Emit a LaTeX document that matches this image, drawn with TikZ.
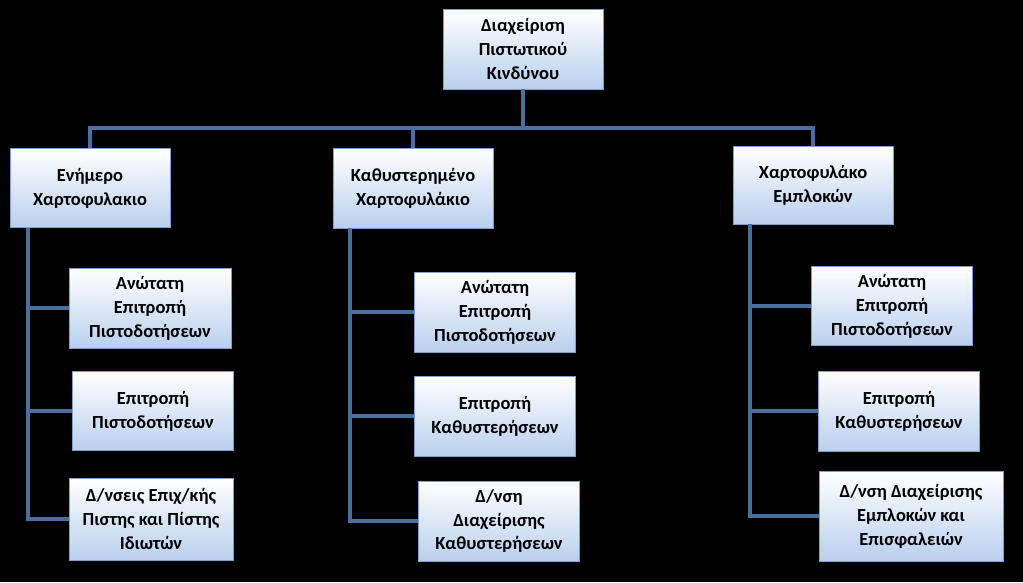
\documentclass[tikz,border=0pt]{standalone}
\usepackage{fontspec}
\setmainfont{Carlito}
\definecolor{boxline}{HTML}{7F9FCF}
\definecolor{boxfill}{HTML}{B9CFEE}
\definecolor{wire}{HTML}{4A6E9E}
\begin{document}
\begin{tikzpicture}[x=0.02cm,y=-0.02cm]
	\tikzstyle{unit}=[draw=boxline,thin,top color=white,bottom color=boxfill,align=center,
		inner sep=2pt,font=\bfseries\fontsize{10.5}{13.6}\selectfont]
	\tikzstyle{link}=[draw=wire,line width=2.2pt]

	\fill[black] (0,0) rectangle (1023,582);

	% top and first level
	\node[unit,minimum width=3.2cm,minimum height=1.6cm] (root) at (523,49) {Διαχείριση\\Πιστωτικού\\Κινδύνου};
	\node[unit,minimum width=3.2cm,minimum height=1.58cm] (cur) at (90,188) {Ενήμερο\\Χαρτοφυλακιο};
	\node[unit,minimum width=3.2cm,minimum height=1.6cm] (late) at (413,188) {Καθυστερημένο\\Χαρτοφυλάκιο};
	\node[unit,minimum width=3.2cm,minimum height=1.56cm] (lien) at (813,185) {Χαρτοφυλάκο\\Εμπλοκών};

	% second level
	\node[unit,minimum width=3.24cm,minimum height=1.6cm] (cur1) at (150,308) {Ανώτατη\\Επιτροπή\\Πιστοδοτήσεων};
	\node[unit,minimum width=3.22cm,minimum height=1.58cm] (cur2) at (153,411) {Επιτροπή\\Πιστοδοτήσεων};
	\node[unit,minimum width=3.28cm,minimum height=1.64cm] (cur3) at (151,519) {Δ/νσεις Επιχ/κής\\Πιστης και Πίστης\\Ιδιωτών};
	\node[unit,minimum width=3.22cm,minimum height=1.6cm] (late1) at (495,312) {Ανώτατη\\Επιτροπή\\Πιστοδοτήσεων};
	\node[unit,minimum width=3.22cm,minimum height=1.6cm] (late2) at (495,416) {Επιτροπή\\Καθυστερήσεων};
	\node[unit,minimum width=3.22cm,minimum height=1.6cm] (late3) at (499,521) {Δ/νση\\Διαχείρισης\\Καθυστερήσεων};
	\node[unit,minimum width=3.22cm,minimum height=1.58cm] (lien1) at (892,306) {Ανώτατη\\Επιτροπή\\Πιστοδοτήσεων};
	\node[unit,minimum width=3.22cm,minimum height=1.6cm] (lien2) at (899,411) {Επιτροπή\\Καθυστερήσεων};
	\node[unit,minimum width=3.68cm,minimum height=1.8cm] (lien3) at (911,516) {Δ/νση Διαχείρισης\\Εμπλοκών και\\Επισφαλειών};

	% tree lines
	\coordinate (bus) at (523,128);
	\draw[link] (root.south) -- (bus);
	\draw[link] (cur.north) |- (bus) -| (lien.north);
	\draw[link] (late.north) -- (late.north |- bus);

	\coordinate (curx) at (28,0);
	\coordinate (latex) at (350,0);
	\coordinate (lienx) at (750,0);
	\draw[link] (curx |- cur.south) |- (cur3.west);
	\draw[link] (latex |- late.south) |- (late3.west);
	\draw[link] (lienx |- lien.south) |- (lien3.west);
	\foreach \s in {cur1,cur2} \draw[link] (curx |- \s.west) -- (\s.west);
	\foreach \s in {late1,late2} \draw[link] (latex |- \s.west) -- (\s.west);
	\foreach \s in {lien1,lien2} \draw[link] (lienx |- \s.west) -- (\s.west);
\end{tikzpicture}
\end{document}
